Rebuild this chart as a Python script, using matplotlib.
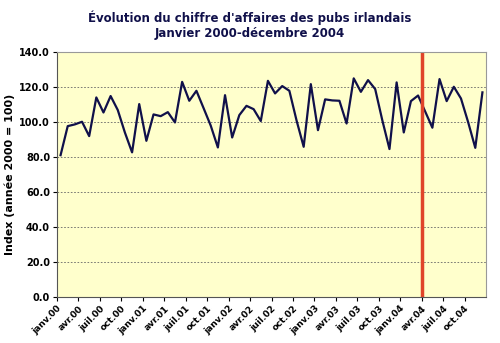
import matplotlib
matplotlib.use('Agg')
import matplotlib.pyplot as plt
import numpy as np

# monthly index, janv.2000 - déc.2004
values = [81.1, 97.7, 98.7, 100.2, 92.0, 114.1, 105.5, 114.9, 106.9, 94.0,
          82.7, 110.3, 89.3, 104.4, 103.4, 105.7, 99.8, 123.0, 112.2, 117.9,
          108.0, 98.0, 85.5, 115.4, 91.2, 104.0, 109.3, 107.4, 100.6, 123.6,
          116.4, 120.6, 117.9, 101.0, 85.9, 121.7, 95.4, 113.0, 112.4, 112.2,
          99.2, 125.0, 117.3, 124.0, 118.9, 101.0, 84.6, 122.7, 94.1, 112.0,
          115.2, 106.0, 96.8, 124.6, 112.0, 120.2, 113.5, 100.0, 85.3, 117.0]
months = ['janv', 'avr', 'juil', 'oct']
years = ['00', '01', '02', '03', '04']
tick_labels = [m + '.' + y for y in years for m in months]
marker_month = 50.5  # between mars.04 and avr.04

navy = '#10104a'
fig = plt.figure(figsize=(5, 3.43), dpi=100)
ax = fig.add_axes([0.114, 0.134, 0.858, 0.714])
ax.set_facecolor('#ffffcc')

x = np.arange(len(values))
ax.plot(x, values, color=navy, lw=1.6)
ax.axvline(marker_month, color='#e0442a', lw=2.5)

ax.set_xlim(-0.5, len(values) - 0.5)
ax.set_ylim(0, 140)
ax.set_yticks(np.arange(0, 141, 20))
ax.set_yticklabels(['%.1f' % v for v in np.arange(0, 141, 20)],
                   fontsize=7, fontweight='bold')
ax.yaxis.grid(True, linestyle=(0, (2, 2)), color='#666666', lw=0.6)

ax.set_xticks(np.arange(0, len(values), 3) - 0.5)
ax.set_xticklabels(tick_labels, rotation=45, ha='right',
                   rotation_mode='anchor', fontsize=6.5, fontweight='bold')
ax.tick_params(axis='both', length=3, width=0.8, pad=2)

for side in ['top', 'right']:
    ax.spines[side].set_color('#999999')
ax.spines['left'].set_color('#555555')
ax.spines['bottom'].set_color('#555555')

ax.set_ylabel('Index (année 2000 = 100)', fontsize=8, fontweight='bold', labelpad=3)
fig.suptitle("Évolution du chiffre d'affaires des pubs irlandais\nJanvier 2000-décembre 2004",
             fontsize=8.5, fontweight='bold', color=navy, y=0.968)

fig.savefig('out.png', dpi=100)
